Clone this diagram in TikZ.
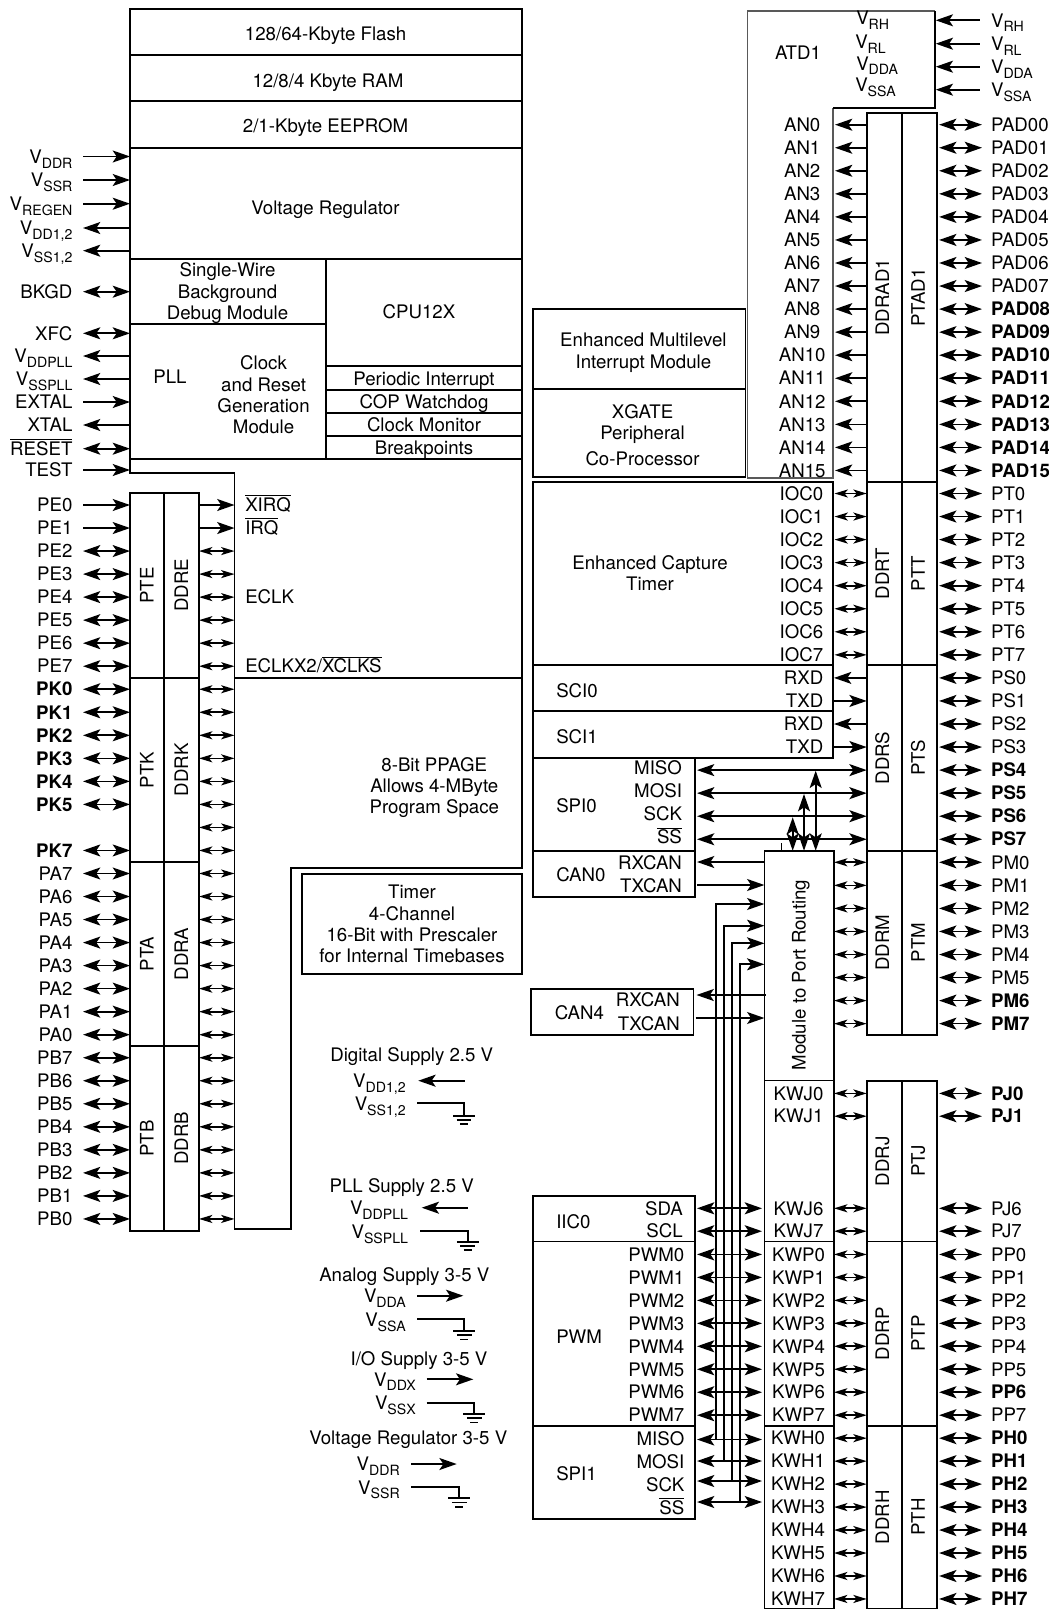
\documentclass[tikz,border=0pt]{standalone}
\usepackage{fontspec}
\setmainfont{TeX Gyre Heros}
\usepackage{tikz}
\usetikzlibrary{arrows.meta}

\newcommand{\vsub}[1]{V\raisebox{-.5ex}{\fontsize{10.6}{12}\selectfont #1}}
\newcommand{\ovl}[1]{$\overline{\mbox{#1}}$}
\newcommand{\blk}[5]{\node[blk, minimum width={(#4-#2)*0.75pt}, minimum height={(#5-#3)*0.75pt}] (#1) at ({(#2+#4)/2},{(#3+#5)/2}) {};}
\newcommand{\lpin}[4]{\node[sig, anchor=east] (#1) at (72.7,#2) {#4};
  \coordinate (#1a) at (83,#2); \coordinate (#1b) at (130,#2);
  \draw[#3] (#1a) -- (#1b);}
\newcommand{\rpin}[4]{\node[sig, anchor=west] (#1) at (990.8,#2) {#4};
  \coordinate (#1a) at (939.1,#2); \coordinate (#1b) at (982,#2);
  \draw[#3] (#1a) -- (#1b);}
\newcommand{\link}[5]{\coordinate (#1a) at (#3,#2); \coordinate (#1b) at (#4,#2);
  \draw[#5] (#1a) -- (#1b);}
\newcommand{\gnd}[1]{\draw[wire] ([xshift=-8.2pt]#1) -- ([xshift=8.2pt]#1);
  \draw[wire] ([xshift=-5.6pt,yshift=-3.2pt]#1) -- ([xshift=5.6pt,yshift=-3.2pt]#1);
  \draw[wire] ([xshift=-3pt,yshift=-6.4pt]#1) -- ([xshift=3pt,yshift=-6.4pt]#1);}

\tikzset{
  sig/.style={inner sep=0pt, text height=10.1pt, text depth=0pt},
  txt/.style={inner sep=0pt, align=center},
  blk/.style={draw, line width=1.3pt, inner sep=0pt, outer sep=0pt},
  wire/.style={line width=1.25pt},
  into/.style={wire, -{Stealth[length=13pt,width=9pt,inset=3pt]}},
  outof/.style={wire, {Stealth[length=13pt,width=9pt,inset=3pt]}-},
  both/.style={wire, {Stealth[length=13pt,width=9pt,inset=3pt]}-{Stealth[length=13pt,width=9pt,inset=3pt]}},
  bothsm/.style={wire, {Stealth[length=10pt,width=6pt,inset=2.5pt]}-{Stealth[length=10pt,width=6pt,inset=2.5pt]}}
}

\begin{document}
\begin{tikzpicture}[x=0.75pt, y=-0.75pt, every node/.style={font=\fontsize{14}{16}\selectfont}]
  \useasboundingbox (0,0) rectangle (1049,1613);

  \blk{flash}{130}{9}{522}{54.7}
  \blk{ram}{130}{54.7}{522}{101}
  \blk{eeprom}{130}{101}{522}{147.7}
  \blk{vreg}{130}{147.7}{522}{258.7}
  \blk{bdm}{130}{258.7}{326}{323.7}
  \blk{pll}{130}{323.7}{326}{459}
  \blk{cpu}{326}{258.7}{522}{365.7}
  \blk{pit}{326}{365.7}{522}{389.7}
  \blk{cop}{326}{389.7}{522}{412.7}
  \blk{clkmon}{326}{412.7}{522}{435.7}
  \blk{brk}{326}{435.7}{522}{459}
  \draw[blk] (130,459) -- (130,473.3) -- (234.5,473.3) -- (234.5,1229) -- (291,1229)
    -- (291,868) -- (522,868) -- (522,459);
  \draw[blk] (234.5,677.7) -- (522,677.7);
  \blk{timer}{302}{874}{522}{974}

  \node[sig] (flashtxt) at (325.6,34) {128/64-Kbyte Flash};
  \node[sig] (ramtxt) at (328,80.3) {12/8/4 Kbyte RAM};
  \node[sig] (eepromtxt) at (325.5,125.7) {2/1-Kbyte EEPROM};
  \node[sig] (vregtxt) at (325.5,207.7) {Voltage Regulator};
  \node[txt] (bdmtxt) at (227.5,293.3) {Single-Wire\\Background\\Debug Module};
  \node[sig] (cputxt) at (419,311.7) {CPU12X};
  \node[sig] (plltxt) at (170,376.7) {PLL};
  \node[txt] (clktxt) at (263.6,395) {Clock\\and Reset\\Generation\\Module};
  \node[sig] (pittxt) at (424,378.3) {Periodic Interrupt};
  \node[sig] (coptxt) at (424,401.7) {COP Watchdog};
  \node[sig] (clkmontxt) at (424,424.7) {Clock Monitor};
  \node[sig] (brktxt) at (424,447.7) {Breakpoints};
  \node[sig, anchor=west] (xirq) at (245,504.7) {\ovl{XIRQ}};
  \node[sig, anchor=west] (irq) at (245,527.7) {\ovl{IRQ}};
  \node[sig, anchor=west] (eclk) at (245,597) {ECLK};
  \node[sig, anchor=west] (eclkx) at (245,666) {ECLKX2/\ovl{XCLKS}};
  \node[txt] (ppagetxt) at (434.3,787.5) {8-Bit PPAGE\\Allows 4-MByte\\Program Space};
  \node[txt] (timertxt) at (412,924) {Timer\\4-Channel\\16-Bit with Prescaler\\for Internal Timebases};

  \foreach \nm/\y/\st/\tx in {vddr/156.5/into/{\vsub{DDR}}, vssr/180/into/{\vsub{SSR}},
      vregen/203.7/into/{\vsub{REGEN}}, vddc/228/outof/{\vsub{DD1,2}}, vssc/250.7/outof/{\vsub{SS1,2}},
      bkgd/291.7/both/BKGD, xfc/333.3/both/XFC, vddpll/356/outof/{\vsub{DDPLL}},
      vsspll/379/outof/{\vsub{SSPLL}}, extal/402/into/EXTAL, xtal/425/outof/XTAL,
      reset/448.7/both/{\ovl{RESET}}, test/470/into/TEST}{
    \lpin{\nm}{\y}{\st}{\tx}
  }

  \foreach \nm/\tx/\ya/\yb in {pte/PTE/493/677.7, ptk/PTK/677.7/862, pta/PTA/862/1046, ptb/PTB/1046/1230.7}{
    \blk{\nm}{130}{\ya}{164}{\yb}
    \node[sig, rotate=90] (\nm txt) at (\nm) {\tx};
  }
  \foreach \nm/\tx/\ya/\yb in {ddre/DDRE/493/677.7, ddrk/DDRK/677.7/862, ddra/DDRA/862/1046, ddrb/DDRB/1046/1230.7}{
    \blk{\nm}{164}{\ya}{199}{\yb}
    \node[sig, rotate=90] (\nm txt) at (\nm) {\tx};
  }

  \foreach \nm [count=\i from 0] in {PE0,PE1}{
    \pgfmathsetmacro{\yy}{505+23.03*\i}
    \lpin{\nm}{\yy}{into}{\nm}
    \link{irqin\i}{\yy}{199}{234.5}{into}
  }
  \foreach \nm [count=\i from 2] in {PE2,PE3,PE4,PE5,PE6,PE7}{
    \pgfmathsetmacro{\yy}{505+23.03*\i}
    \lpin{\nm}{\yy}{both}{\nm}
  }
  \foreach \nm [count=\i from 8] in {PK0,PK1,PK2,PK3,PK4,PK5}{
    \pgfmathsetmacro{\yy}{505+23.03*\i}
    \lpin{\nm}{\yy}{both}{\bfseries \nm}
  }
  \pgfmathsetmacro{\yy}{505+23.03*15}
  \lpin{PK7}{\yy}{both}{\bfseries PK7}
  \foreach \nm [count=\i from 16] in {PA7,PA6,PA5,PA4,PA3,PA2,PA1,PA0,PB7,PB6,PB5,PB4,PB3,PB2,PB1,PB0}{
    \pgfmathsetmacro{\yy}{505+23.03*\i}
    \lpin{\nm}{\yy}{both}{\nm}
  }
  \foreach \i in {2,...,31}{
    \pgfmathsetmacro{\yy}{505+23.03*\i}
    \link{ddl\i}{\yy}{199}{234.5}{bothsm}
  }

  \draw[wire, black!65] (833.3,107.7) -- (833.3,477.7) -- (747.5,477.7) -- (747.5,11) -- (934.7,11);
  \draw[blk] (934.7,11) -- (934.7,107.7) -- (833.3,107.7);
  \node[sig] (atdtxt) at (798,52.7) {ATD1};
  \node[sig, anchor=west] (vrhi) at (856,17.7) {\vsub{RH}};
  \node[sig, anchor=west] (vrli) at (855,41.7) {\vsub{RL}};
  \node[sig, anchor=west] (vddai) at (856,63.3) {\vsub{DDA}};
  \node[sig, anchor=west] (vssai) at (855,85) {\vsub{SSA}};
  \foreach \nm/\y/\tx in {vrh/20.3/RH, vrl/43.7/RL, vdda/66.7/DDA, vssa/89.7/SSA}{
    \node[sig, anchor=west] (\nm) at (990.8,\y) {\vsub{\tx}};
    \link{\nm}{\y}{935.7}{980.4}{outof}
  }

  \foreach \nm/\tx/\tp/\ya/\yb in {ad/DDRAD1/PTAD1/113.3/481.7, t/DDRT/PTT/481.7/665.3, s/DDRS/PTS/665.3/850.7,
      m/DDRM/PTM/850.7/1034.7, j/DDRJ/PTJ/1081/1241.5, p/DDRP/PTP/1241.5/1425.7, h/DDRH/PTH/1425.7/1608.6}{
    \blk{ddr\nm}{866.7}{\ya}{902.3}{\yb}
    \blk{pt\nm}{902.3}{\ya}{937.3}{\yb}
    \node[sig, rotate=90] (ddr\nm txt) at ([xshift=-1.5pt]ddr\nm) {\tx};
    \node[sig, rotate=90] (pt\nm txt) at ([xshift=-1.2pt]pt\nm) {\tp};
  }

  \foreach \i in {0,...,15}{
    \pgfmathsetmacro{\yy}{124.7+23.05*\i}
    \node[sig] (an\i) at (802.2,\yy) {AN\i};
    \link{an\i}{\yy}{835}{866.7}{outof}
    \rpin{pad\i}{\yy}{both}{\ifnum\i>7 \bfseries\fi PAD\ifnum\i<10 0\fi\i}
  }

  \blk{xint}{533}{309}{745.5}{389.3}
  \blk{xgate}{533}{389.3}{745.5}{476.7}
  \node[txt] (xinttxt) at (643.4,352.8) {Enhanced Multilevel\\Interrupt Module};
  \node[txt] (xgatetxt) at (642.5,435) {XGATE\\Peripheral\\[3.3pt]Co-Processor};

  \blk{ect}{533}{481.7}{833.3}{665.3}
  \node[txt] (ecttxt) at (650,573) {Enhanced Capture\\Timer};
  \foreach \i in {0,...,7}{
    \pgfmathsetmacro{\yy}{124.7+23.05*(16+\i)}
    \node[sig, anchor=east] (ioc\i) at (823.5,\yy) {IOC\i};
    \link{ioc\i}{\yy}{834.5}{866.7}{bothsm}
    \rpin{pt\i}{\yy}{both}{PT\i}
    \pgfmathsetmacro{\yy}{124.7+23.05*(24+\i)}
    \rpin{ps\i}{\yy}{both}{\ifnum\i>3 \bfseries\fi PS\i}
    \pgfmathsetmacro{\yy}{124.7+23.05*(32+\i)}
    \link{mm\i}{\yy}{834}{866.7}{bothsm}
    \rpin{pm\i}{\yy}{both}{\ifnum\i>5 \bfseries\fi PM\i}
  }

  \blk{sci0}{533}{665.3}{833.3}{711.3}
  \blk{sci1}{533}{711.3}{833.3}{757.7}
  \node[sig, anchor=west] (sci0txt) at (556,690.7) {SCI0};
  \node[sig, anchor=west] (sci1txt) at (556,736.7) {SCI1};
  \foreach \nm/\n/\st/\tx in {rxd0/24/outof/RXD, txd0/25/into/TXD, rxd1/26/outof/RXD, txd1/27/into/TXD}{
    \pgfmathsetmacro{\yy}{124.7+23.05*\n}
    \node[sig, anchor=east] (\nm) at (823.5,\yy) {\tx};
    \link{\nm}{\yy}{834}{866.7}{\st}
  }

  \blk{spi0}{533}{757.7}{695}{850.7}
  \node[sig, anchor=west] (spi0txt) at (556,805.7) {SPI0};
  \foreach \nm/\n/\tx in {miso0/28/MISO, mosi0/29/MOSI, sck0/30/SCK, ss0/31/{\ovl{SS}}}{
    \pgfmathsetmacro{\yy}{124.7+23.05*\n}
    \pgfmathsetmacro{\yt}{\yy-2.3}
    \node[sig, anchor=east] (\nm) at (682.2,\yt) {\tx};
    \link{\nm}{\yy}{697}{866.7}{both}
  }

  \blk{route}{764.4}{850.7}{833.7}{1080.4}
  \node[sig, rotate=90] (routetxt) at (798.8,975) {Module to Port Routing};
  \blk{kwj}{764.4}{1080.4}{833.7}{1241.5}
  \blk{kwp}{764.4}{1241.5}{833.7}{1425.7}
  \blk{kwh}{764.4}{1425.7}{833.7}{1608.6}

  \foreach \nm/\x/\y in {a/792.7/817.3, b/804/794, c/815.7/770.7}{
    \coordinate (up\nm) at (\x,\y);
    \draw[both] (up\nm) -- (up\nm |- route.north);
  }
  \coordinate (tick) at (781,843);
  \draw[line width=0.6pt] (tick) -- (tick |- route.north);

  \blk{can0}{533}{850.7}{695}{896.7}
  \node[sig, anchor=west] (can0txt) at (556,874.3) {CAN0};
  \node[sig, anchor=east] (rxcan0) at (682.2,862.3) {RXCAN};
  \node[sig, anchor=east] (txcan0) at (682.2,885.7) {TXCAN};
  \link{rxcan0}{862}{697}{764.4}{outof}
  \link{txcan0}{885}{697}{764.4}{into}

  \blk{can4}{531}{989}{693.4}{1034.7}
  \node[sig, anchor=west] (can4txt) at (554.5,1012.3) {CAN4};
  \node[sig, anchor=east] (rxcan4) at (680,1000) {RXCAN};
  \node[sig, anchor=east] (txcan4) at (680,1023.3) {TXCAN};
  \link{rxcan4}{995}{696.5}{766}{outof}
  \link{txcan4}{1018}{695.7}{764.4}{into}

  \blk{iic0}{533}{1195.7}{695}{1241.5}
  \blk{pwm}{533}{1241.5}{695}{1426}
  \blk{spi1}{533}{1426}{695}{1519.3}
  \node[sig, anchor=west] (iic0txt) at (556,1222) {IIC0};
  \node[sig, anchor=west] (pwmtxt) at (556,1336.3) {PWM};
  \node[sig, anchor=west] (spi1txt) at (556,1474) {SPI1};

  \foreach \nm/\y/\id/\tx/\kw/\pn in {sda/1208.3/j6/SDA/KWJ6/PJ6, scl/1231.2/j7/SCL/KWJ7/PJ7}{
    \node[sig, anchor=east] (\nm) at (683,\y) {\tx};
    \link{\nm}{\y}{697}{762}{both}
    \node[sig] (kw\id) at (798.5,\y) {\kw};
    \link{kl\id}{\y}{834}{866.7}{bothsm}
    \rpin{\id}{\y}{both}{\pn}
  }
  \foreach \y/\id/\kw/\pn in {1093.4/j0/KWJ0/PJ0, 1116.2/j1/KWJ1/PJ1}{
    \node[sig] (kw\id) at (798.5,\y) {\kw};
    \link{kl\id}{\y}{834}{866.7}{bothsm}
    \rpin{\id}{\y}{both}{\bfseries \pn}
  }
  \foreach \i in {0,...,7}{
    \pgfmathsetmacro{\yy}{1254.4+22.97*\i}
    \node[sig, anchor=east] (pwm\i) at (684.6,\yy) {PWM\i};
    \link{pwm\i}{\yy}{697}{762}{both}
    \node[sig] (kwp\i) at (798.5,\yy) {KWP\i};
    \link{klp\i}{\yy}{834}{866.7}{bothsm}
    \rpin{pp\i}{\yy}{both}{\ifnum\i=6 \bfseries\fi PP\i}
    \pgfmathsetmacro{\yy}{1254.4+22.97*(8+\i)}
    \node[sig] (kwh\i) at (798,\yy) {KWH\i};
    \link{klh\i}{\yy}{834}{866.7}{bothsm}
    \rpin{ph\i}{\yy}{both}{\bfseries PH\i}
  }
  \foreach \nm/\yl/\y/\xb/\yt/\tx in {miso1/1438.5/1439.5/716/904/MISO, mosi1/1461.5/1461/724/925.7/MOSI,
      sck1/1484.5/1481/732/943.3/SCK, ss1/1507.5/1502/740/964.3/{\ovl{SS}}}{
    \node[sig, anchor=east] (\nm) at (684.6,\yl) {\tx};
    \link{\nm}{\y}{697}{762}{both}
    \coordinate (\nm s) at (\xb,\y);
    \coordinate (\nm e) at (764.4,\yt);
    \draw[into] (\nm s) |- (\nm e);
  }

  \node[sig] (digtxt) at (411.7,1054.3) {Digital Supply 2.5 V};
  \node[sig, anchor=east] (vdddig) at (406,1080.7) {\vsub{DD1,2}};
  \node[sig, anchor=east] (vssdig) at (406,1104) {\vsub{SS1,2}};
  \link{vdddig}{1080.7}{418.3}{465}{outof}
  \coordinate (vssdiga) at (417.3,1103.3);
  \coordinate (gnddig) at (464,1115.7);
  \draw[wire] (vssdiga) -| (gnddig);
  \gnd{gnddig}

  \node[sig] (plltitle) at (401.7,1185.7) {PLL Supply 2.5 V};
  \node[sig, anchor=east] (vddp) at (408.3,1207.7) {\vsub{DDPLL}};
  \node[sig, anchor=east] (vssp) at (408.3,1232) {\vsub{SSPLL}};
  \link{vddp}{1207.7}{421.7}{467.7}{outof}
  \coordinate (vsspa) at (420,1230.7);
  \coordinate (gndp) at (467.7,1241.7);
  \draw[wire] (vsspa) -| (gndp);
  \gnd{gndp}

  \node[sig] (anatxt) at (404.3,1274.3) {Analog Supply 3-5 V};
  \node[sig, anchor=east] (vddan) at (406,1295.7) {\vsub{DDA}};
  \node[sig, anchor=east] (vssan) at (406,1320) {\vsub{SSA}};
  \link{vddan}{1295.7}{417.3}{463.3}{into}
  \coordinate (vssana) at (417.3,1319);
  \coordinate (gndan) at (464.3,1331);
  \draw[wire] (vssana) -| (gndan);
  \gnd{gndan}

  \node[sig] (iotxt) at (419,1358.3) {I/O Supply 3-5 V};
  \node[sig, anchor=east] (vddx) at (416,1379.3) {\vsub{DDX}};
  \node[sig, anchor=east] (vssx) at (416,1402.7) {\vsub{SSX}};
  \link{vddx}{1379.3}{426.7}{473.3}{into}
  \coordinate (vssxa) at (426.7,1402.7);
  \coordinate (gndx) at (474.3,1414);
  \draw[wire] (vssxa) -| (gndx);
  \gnd{gndx}

  \node[sig] (regtxt) at (408.3,1437.7) {Voltage Regulator 3-5 V};
  \node[sig, anchor=east] (vddreg) at (400,1464) {\vsub{DDR}};
  \node[sig, anchor=east] (vssreg) at (400,1487.3) {\vsub{SSR}};
  \link{vddreg}{1464}{411}{456.7}{into}
  \coordinate (vssrega) at (411,1487.3);
  \coordinate (gndreg) at (459.3,1498.3);
  \draw[wire] (vssrega) -| (gndreg);
  \gnd{gndreg}
\end{tikzpicture}
\end{document}
